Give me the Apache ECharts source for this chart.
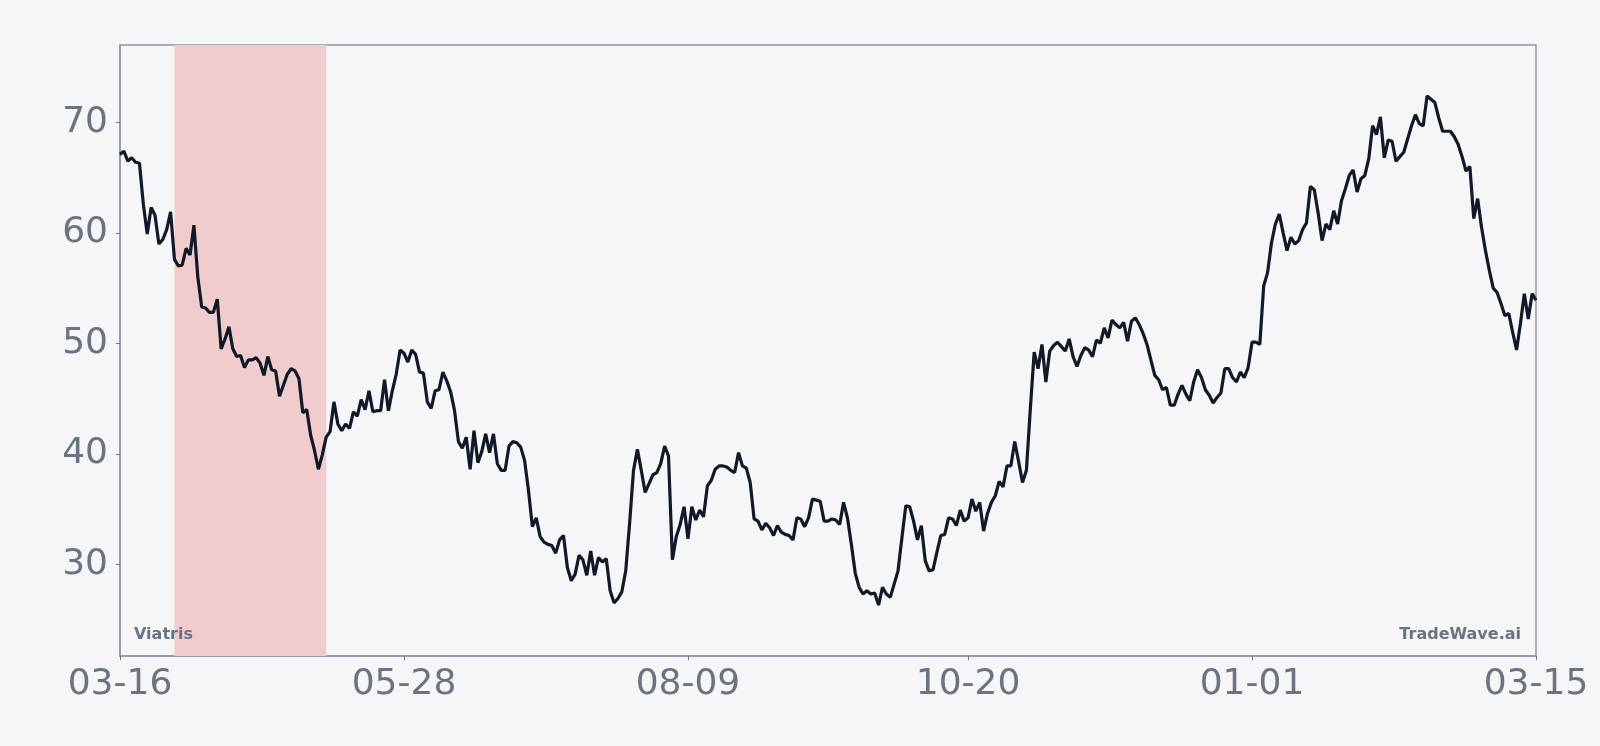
<!DOCTYPE html>
<html>
<head>
<meta charset="utf-8">
<script src="https://cdn.jsdelivr.net/npm/echarts@6/dist/echarts.min.js"></script>
<style>
  html, body { margin: 0; padding: 0; background: #f4f6f8; }
  #chart { width: 1600px; height: 746px; }
</style>
</head>
<body>
<div id="chart"></div>
<script>
// daily closes, 2024-03-16 .. 2025-03-15
const startDate = [2024, 2, 16];
const prices = [
  67.1, 67.4, 66.5, 66.8, 66.4, 66.3, 62.6, 59.9, 62.3, 61.6,
  59.0, 59.4, 60.3, 61.9, 57.6, 57.0, 57.1, 58.6, 58.0, 60.7,
  56.0, 53.3, 53.2, 52.8, 52.8, 54.0, 49.5, 50.4, 51.5, 49.5,
  48.8, 48.9, 47.8, 48.5, 48.5, 48.7, 48.2, 47.1, 48.8, 47.6,
  47.5, 45.2, 46.2, 47.2, 47.7, 47.5, 46.8, 43.7, 44.0, 41.7,
  40.3, 38.6, 39.9, 41.5, 42.0, 44.7, 42.7, 42.1, 42.7, 42.3,
  43.8, 43.4, 44.9, 44.0, 45.7, 43.8, 43.9, 43.9, 46.7, 43.9,
  45.7, 47.2, 49.4, 49.1, 48.3, 49.4, 49.0, 47.4, 47.3, 44.7,
  44.1, 45.7, 45.8, 47.4, 46.6, 45.6, 43.9, 41.1, 40.5, 41.5,
  38.6, 42.1, 39.2, 40.2, 41.8, 40.1, 41.8, 39.1, 38.5, 38.5,
  40.7, 41.1, 41.0, 40.6, 39.4, 36.7, 33.4, 34.2, 32.5, 32.0,
  31.8, 31.7, 31.0, 32.2, 32.6, 29.7, 28.5, 29.1, 30.8, 30.4,
  29.0, 31.2, 29.0, 30.6, 30.2, 30.5, 27.6, 26.5, 26.9, 27.5,
  29.4, 33.7, 38.5, 40.4, 38.5, 36.5, 37.3, 38.1, 38.3, 39.1,
  40.7, 39.8, 30.4, 32.5, 33.6, 35.2, 32.3, 35.2, 34.0, 34.9,
  34.3, 37.1, 37.6, 38.6, 38.9, 38.9, 38.8, 38.5, 38.3, 40.1,
  38.9, 38.7, 37.4, 34.1, 33.9, 33.1, 33.7, 33.3, 32.6, 33.5,
  32.9, 32.7, 32.6, 32.2, 34.2, 34.1, 33.4, 34.2, 35.9, 35.8,
  35.7, 33.9, 33.9, 34.1, 34.0, 33.6, 35.6, 34.2, 31.8, 29.2,
  27.9, 27.3, 27.6, 27.3, 27.4, 26.3, 27.9, 27.3, 27.0, 28.2,
  29.4, 32.4, 35.3, 35.2, 33.9, 32.2, 33.5, 30.3, 29.4, 29.5,
  31.1, 32.6, 32.7, 34.2, 34.1, 33.5, 34.9, 33.9, 34.2, 35.9,
  34.8, 35.6, 33.0, 34.6, 35.6, 36.2, 37.5, 37.0, 38.9, 38.9,
  41.1, 39.3, 37.4, 38.5, 44.0, 49.2, 47.7, 49.9, 46.5, 49.3,
  49.8, 50.1, 49.7, 49.3, 50.4, 48.8, 47.9, 48.9, 49.6, 49.4,
  48.8, 50.3, 50.0, 51.4, 50.5, 52.1, 51.7, 51.4, 51.9, 50.2,
  52.0, 52.3, 51.7, 50.9, 49.9, 48.5, 47.1, 46.7, 45.8, 46.0,
  44.4, 44.4, 45.4, 46.2, 45.4, 44.8, 46.5, 47.6, 46.9, 45.8,
  45.3, 44.6, 45.1, 45.5, 47.7, 47.7, 46.9, 46.5, 47.4, 46.9,
  47.8, 50.1, 50.1, 49.9, 55.2, 56.4, 59.1, 60.8, 61.7, 60.0,
  58.4, 59.6, 59.0, 59.3, 60.3, 60.9, 64.2, 63.9, 61.8, 59.3,
  60.8, 60.3, 62.0, 60.8, 62.9, 64.0, 65.2, 65.7, 63.7, 64.9,
  65.2, 66.7, 69.7, 68.9, 70.5, 66.8, 68.4, 68.3, 66.5, 66.9,
  67.3, 68.5, 69.7, 70.7, 69.9, 69.7, 72.4, 72.1, 71.8, 70.4,
  69.2, 69.2, 69.2, 68.7, 68.0, 66.9, 65.6, 66.0, 61.3, 63.1,
  60.5, 58.4, 56.6, 55.0, 54.6, 53.6, 52.5, 52.7, 51.0, 49.4,
  51.8, 54.5, 52.2, 54.5, 53.9
];
const tickLabels = ['03-16', '05-28', '08-09', '10-20', '01-01', '03-15'];
const yTicks = [30, 40, 50, 60, 70];
const shadedRange = ['03-30', '05-08'];
const nameNote = 'Viatris';
const brandNote = 'TradeWave.ai';

const pad2 = n => (n < 10 ? '0' : '') + n;
const dates = prices.map((_, i) => {
  const d = new Date(Date.UTC(startDate[0], startDate[1], startDate[2] + i));
  return pad2(d.getUTCMonth() + 1) + '-' + pad2(d.getUTCDate());
});
const showTick = i => i === 0 || i === dates.length - 1 ? true : tickLabels.includes(dates[i]);

const gray = '#6b7280';
const axisGray = '#9297a5';
const font = 'DejaVu Sans';

const chart = echarts.init(document.getElementById('chart'));
chart.setOption({
  backgroundColor: '#f4f6f8',
  animation: false,
  grid: {
    left: 120, right: 64, top: 45, bottom: 90,
    show: true, borderColor: axisGray, borderWidth: 1.5, backgroundColor: 'transparent'
  },
  xAxis: {
    type: 'category',
    data: dates,
    boundaryGap: false,
    axisLine: { lineStyle: { color: axisGray, width: 1.5 } },
    axisTick: { show: true, interval: showTick, length: 4, lineStyle: { color: gray } },
    axisLabel: {
      interval: showTick, color: gray, fontSize: 36, fontFamily: font, margin: 11
    },
    splitLine: { show: false }
  },
  yAxis: {
    type: 'value',
    min: v => v.min - (v.max - v.min) * 0.1,
    max: v => v.max + (v.max - v.min) * 0.1,
    axisLine: { show: true, lineStyle: { color: axisGray, width: 1.5 } },
    axisTick: { show: true, length: 4, customValues: yTicks, lineStyle: { color: gray } },
    axisLabel: { customValues: yTicks, color: gray, fontSize: 36, fontFamily: font, margin: 12 },
    splitLine: { show: false }
  },
  graphic: [
    {
      type: 'text', left: 134, top: 627, z: 100,
      style: { text: nameNote, fill: gray, font: 'bold 16px "DejaVu Sans"' }
    },
    {
      type: 'text', right: 79, top: 627, z: 100,
      style: { text: brandNote, fill: gray, font: 'bold 16px "DejaVu Sans"' }
    }
  ],
  series: [{
    type: 'line',
    data: prices,
    symbol: 'none',
    lineStyle: { color: '#111827', width: 3.2 },
    markArea: {
      silent: true,
      itemStyle: { color: '#f0cccc' },
      data: [[{ xAxis: shadedRange[0] }, { xAxis: shadedRange[1] }]]
    }
  }]
});
</script>
</body>
</html>
